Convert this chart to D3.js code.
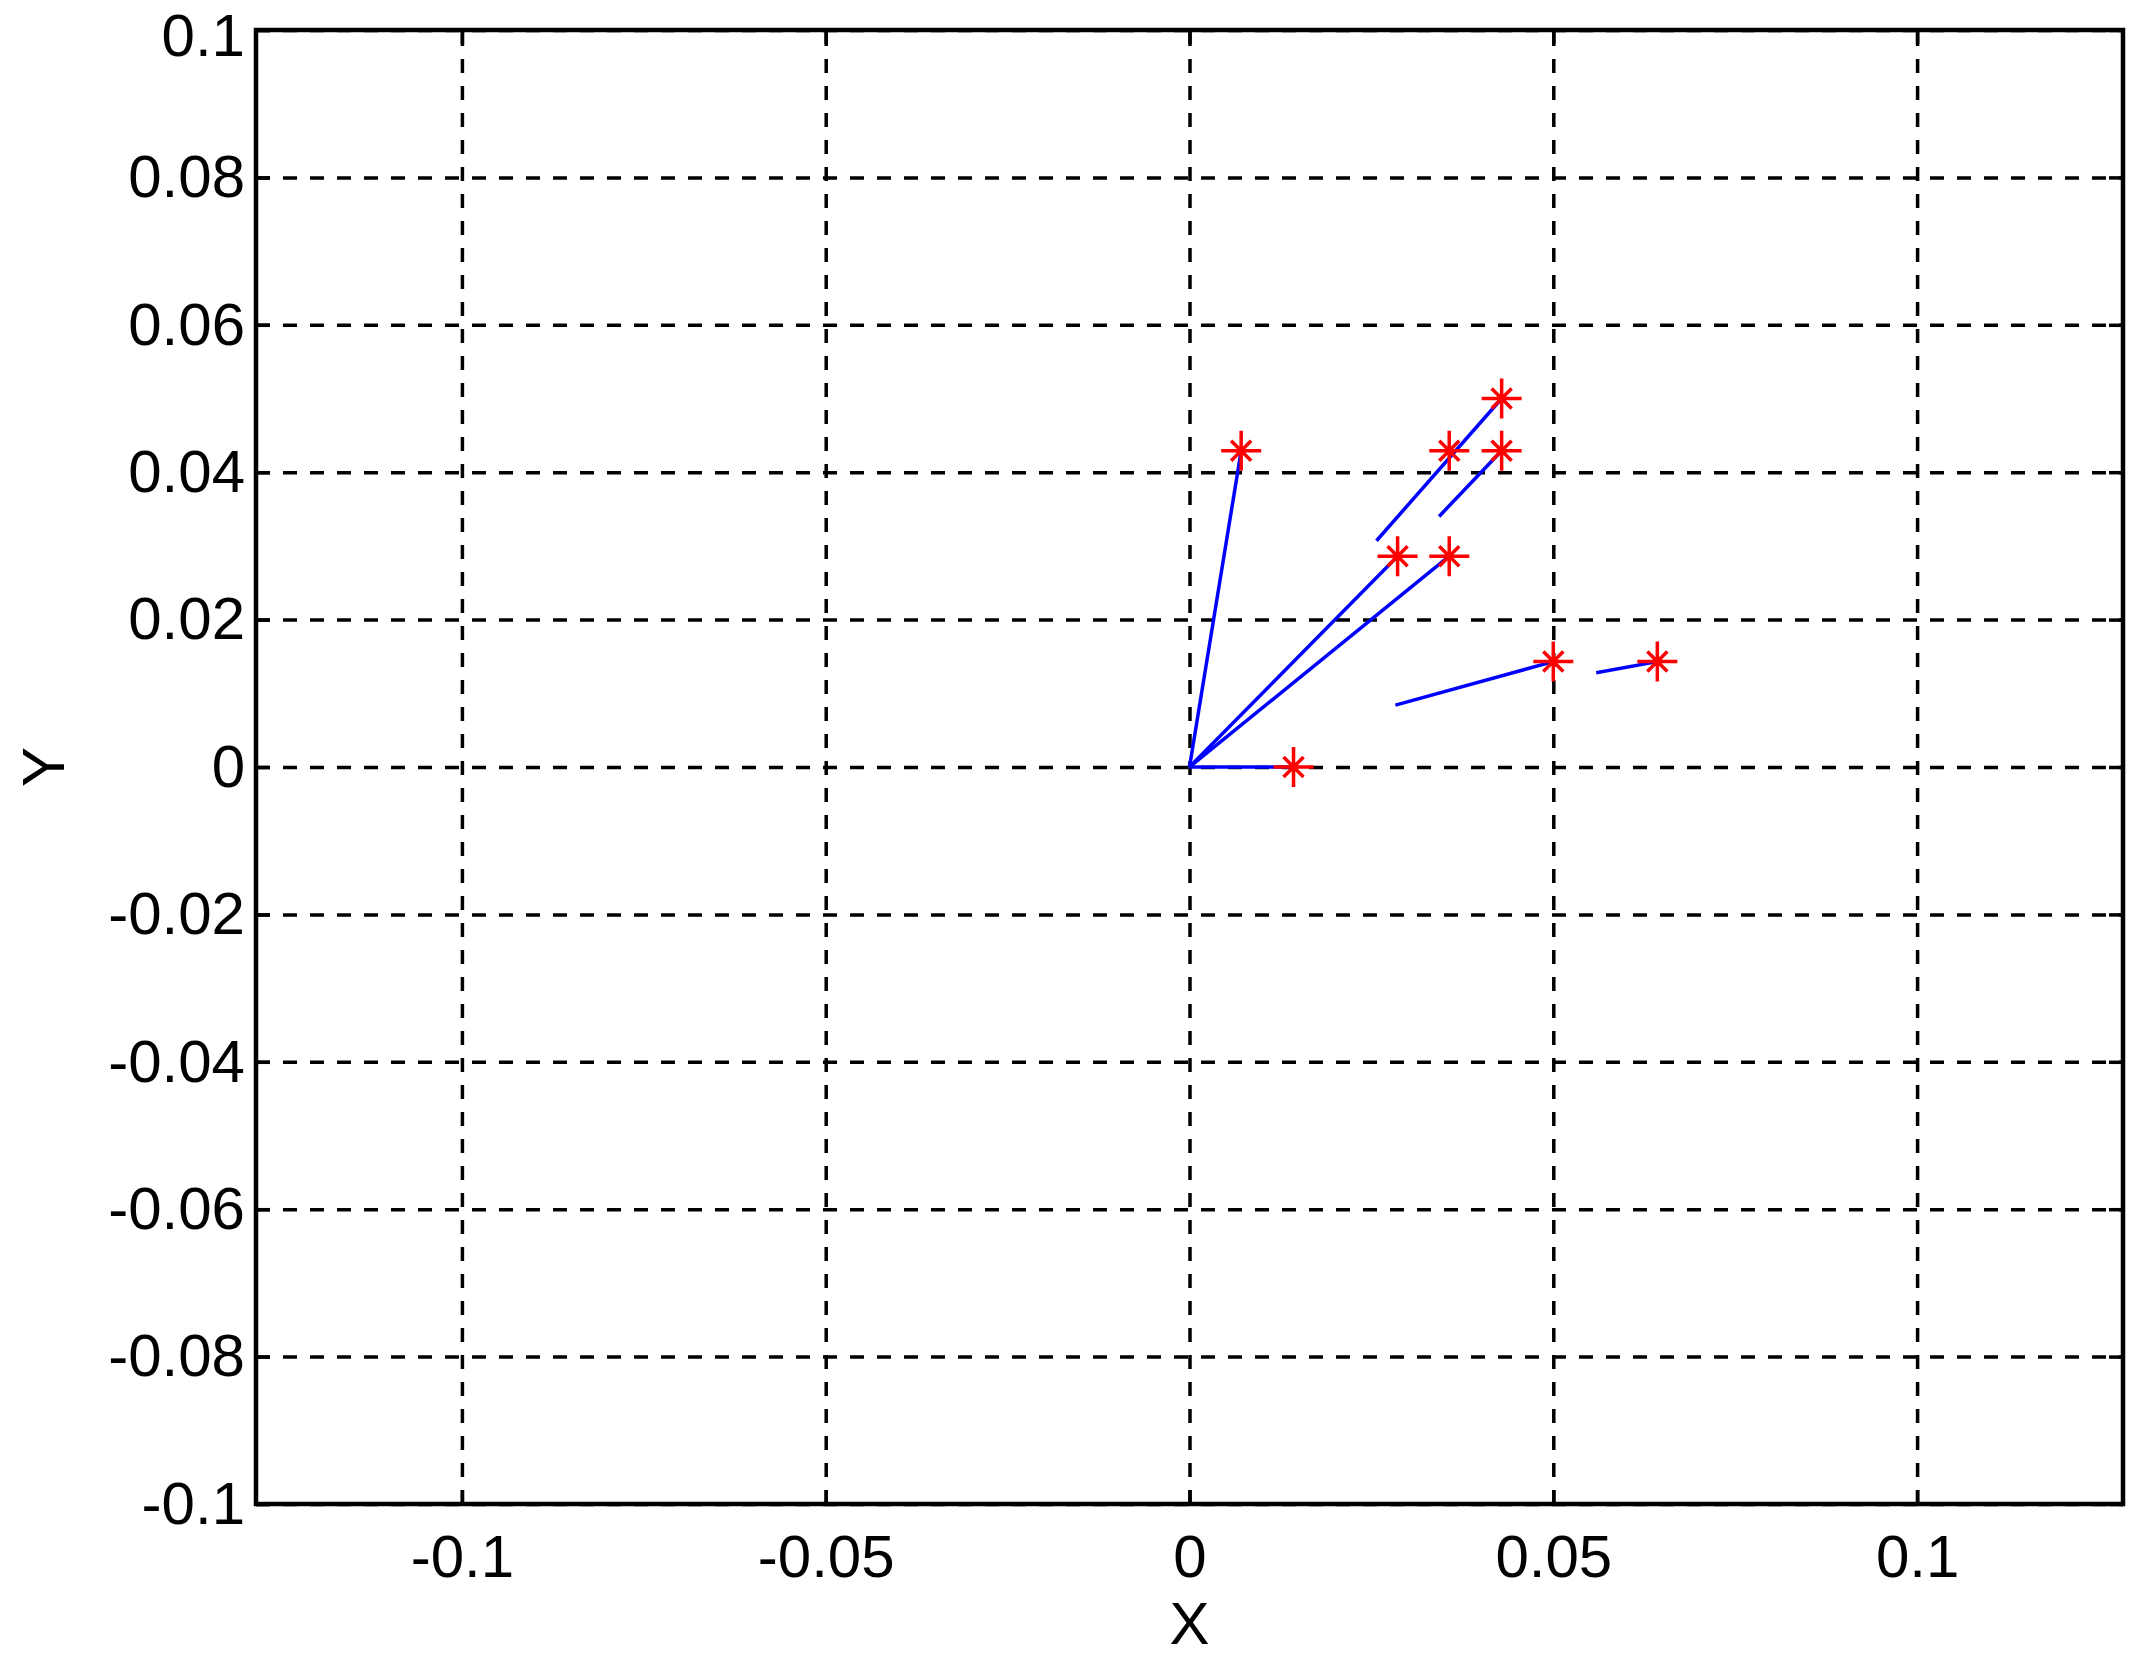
<!DOCTYPE html>
<html lang="en">
<head>
<meta charset="utf-8">
<title>X-Y</title>
<script src="https://d3js.org/d3.v7.min.js"></script>
<style type="text/css">
	body { margin: 0; background: #fff; }
	svg text { font-family: "Liberation Sans", Arial, sans-serif; font-size: 60px; fill: #000; }
	.grid line { stroke: #000; stroke-width: 3.5; stroke-dasharray: 14,13; }
	.grid path, .axis path { display: none; }
	.axis line { stroke: #000; stroke-width: 3.5; }
	.box { fill: none; stroke: #000; stroke-width: 4.5; }
	.vec { fill: none; stroke: #0000ff; stroke-width: 3.5; }
	.star { fill: none; stroke: #ff0000; stroke-width: 3.5; }
</style>
</head>
<body>
<script type="text/javascript">
	var w = 2133;
	var h = 1659;
	var margin = { left: 256, right: 10, top: 30, bottom: 155 };

	//Ticks
	var xTicks = [-0.1, -0.05, 0, 0.05, 0.1];
	var xTickLabels = ["-0.1", "-0.05", "0", "0.05", "0.1"];
	var yTicks = [-0.1, -0.08, -0.06, -0.04, -0.02, 0, 0.02, 0.04, 0.06, 0.08, 0.1];
	var yTickLabels = ["-0.1", "-0.08", "-0.06", "-0.04", "-0.02", "0", "0.02", "0.04", "0.06", "0.08", "0.1"];

	//Points (red stars)
	var starX = [0.0071, 0.0357, 0.0429, 0.0429, 0.0286, 0.0357, 0.05, 0.0643, 0.0143];
	var starY = [0.0429, 0.0429, 0.0429, 0.05, 0.0286, 0.0286, 0.0143, 0.0143, 0];

	//Blue segments: start and end
	var lineX0 = [0, 0, 0, 0, 0.0257, 0.0343, 0.0283, 0.0559];
	var lineY0 = [0, 0, 0, 0, 0.0307, 0.034, 0.0084, 0.0128];
	var lineX1 = [0.0071, 0.0286, 0.0357, 0.0143, 0.0429, 0.0429, 0.05, 0.0643];
	var lineY1 = [0.0429, 0.0286, 0.0286, 0, 0.05, 0.0429, 0.0143, 0.0143];

	var x0 = margin.left, x1 = w - margin.right;
	var y0 = margin.top, y1 = h - margin.bottom;

	var xScale = d3.scaleLinear().domain([-0.1283, 0.1283]).range([x0, x1]);
	var yScale = d3.scaleLinear().domain([-0.1, 0.1]).range([y1, y0]);

	var svg = d3.select("body").append("svg")
		.attr("width", w)
		.attr("height", h);

	//Grid
	svg.append("g")
		.attr("class", "grid")
		.attr("transform", "translate(0," + y1 + ")")
		.call(d3.axisBottom(xScale).tickValues(xTicks).tickSize(-(y1 - y0)).tickFormat(""));
	svg.append("g")
		.attr("class", "grid")
		.attr("transform", "translate(" + x0 + ",0)")
		.call(d3.axisLeft(yScale).tickValues(yTicks).tickSize(-(x1 - x0)).tickFormat(""));

	//Axes with inward ticks
	svg.append("g")
		.attr("class", "axis")
		.attr("transform", "translate(0," + y1 + ")")
		.call(d3.axisBottom(xScale).tickValues(xTicks).tickSize(-14).tickPadding(30)
			.tickFormat(function(d, i) { return xTickLabels[i]; }));
	var yAxis = svg.append("g")
		.attr("class", "axis")
		.attr("transform", "translate(" + x0 + ",0)")
		.call(d3.axisLeft(yScale).tickValues(yTicks).tickSize(-14).tickPadding(11)
			.tickFormat(function(d, i) { return yTickLabels[i]; }));
	svg.append("g")
		.attr("class", "axis")
		.attr("transform", "translate(0," + y0 + ")")
		.call(d3.axisTop(xScale).tickValues(xTicks).tickSize(-14).tickFormat(""));
	svg.append("g")
		.attr("class", "axis")
		.attr("transform", "translate(" + x1 + ",0)")
		.call(d3.axisRight(yScale).tickValues(yTicks).tickSize(-14).tickFormat(""));

	svg.selectAll(".axis text")
		.style("font-size", "60px")
		.style("font-family", "'Liberation Sans', Arial, sans-serif");

	//keep the top label inside the picture
	yAxis.selectAll(".tick text")
		.filter(function(d) { return d === 0.1; })
		.attr("dy", "0.42em");

	//Box
	svg.append("rect")
		.attr("class", "box")
		.attr("x", x0)
		.attr("y", y0)
		.attr("width", x1 - x0)
		.attr("height", y1 - y0);

	//Axis titles
	svg.append("text")
		.attr("x", xScale(0))
		.attr("y", 1644)
		.attr("text-anchor", "middle")
		.text("X");
	svg.append("text")
		.attr("transform", "translate(64," + yScale(0) + ") rotate(-90)")
		.attr("text-anchor", "middle")
		.text("Y");

	//Blue segments
	svg.append("g")
		.selectAll("line")
		.data(lineX0)
		.enter()
		.append("line")
		.attr("class", "vec")
		.attr("x1", function(d) { return xScale(d); })
		.attr("y1", function(d, i) { return yScale(lineY0[i]); })
		.attr("x2", function(d, i) { return xScale(lineX1[i]); })
		.attr("y2", function(d, i) { return yScale(lineY1[i]); });

	//Red star markers
	var starPath = "M-20,0H20M0,-20V20M-10,-10L10,10M-10,10L10,-10";
	svg.append("g")
		.selectAll("path")
		.data(starX)
		.enter()
		.append("path")
		.attr("class", "star")
		.attr("d", starPath)
		.attr("transform", function(d, i) {
			return "translate(" + xScale(d) + "," + yScale(starY[i]) + ")";
		});
</script>
</body>
</html>
